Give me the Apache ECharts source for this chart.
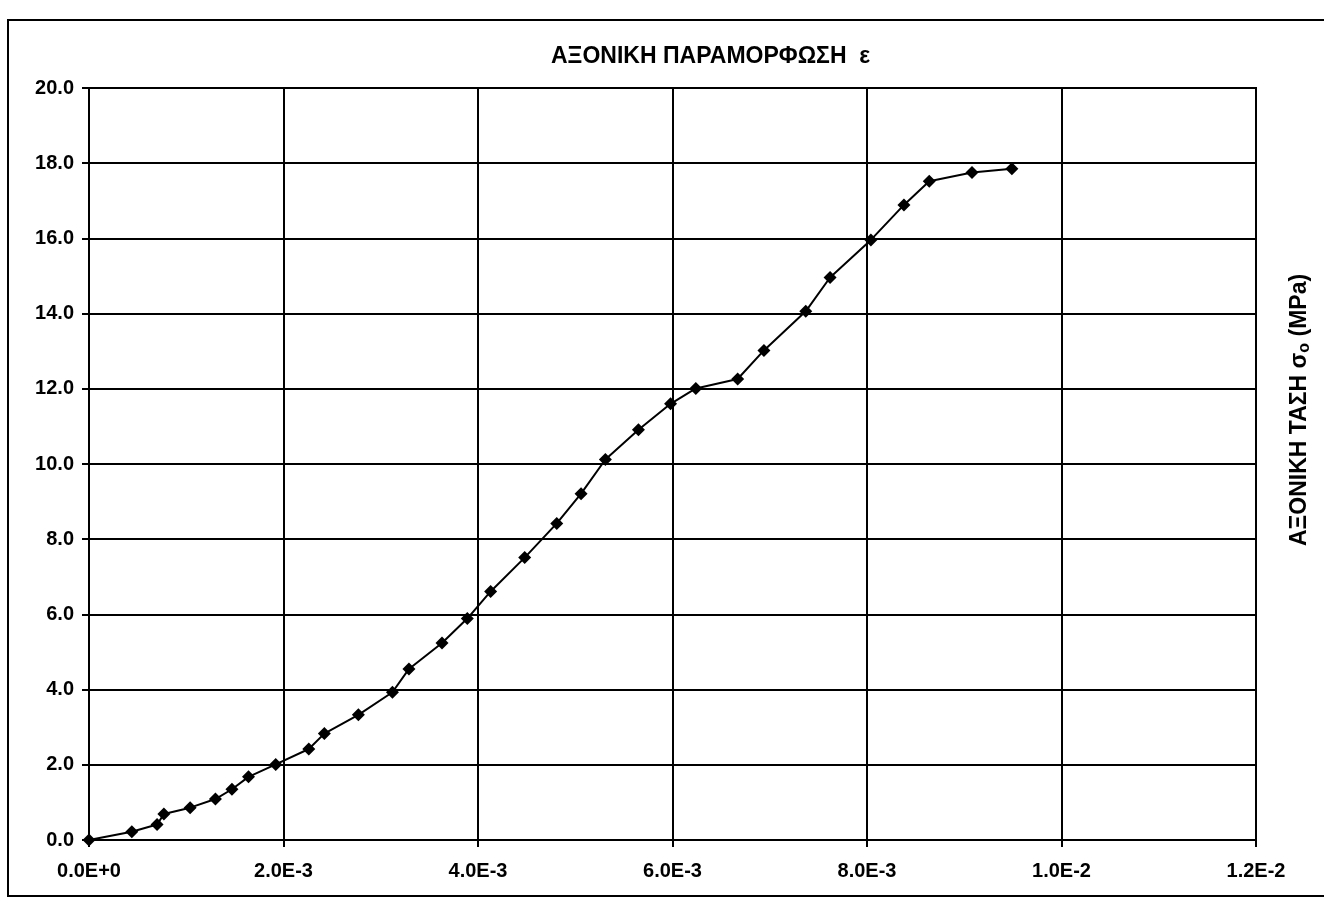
<!DOCTYPE html>
<html lang="el">
<head>
<meta charset="UTF-8">
<title>ΑΞΟΝΙΚΗ ΠΑΡΑΜΟΡΦΩΣΗ</title>
<script src="https://cdn.jsdelivr.net/npm/echarts@6/dist/echarts.min.js"></script>
<style>
  html, body { margin: 0; padding: 0; background: #fff; }
  #main { width: 1324px; height: 915px; }
</style>
</head>
<body>
<div id="main"></div>
<script>
// axial strain (ε) and axial stress σo (MPa)
var strain = [
  0, 0.00044, 0.00070, 0.00077, 0.00104, 0.00130, 0.00147, 0.00164, 0.00192,
  0.00226, 0.00242, 0.00277, 0.00312, 0.00329, 0.00363, 0.00389, 0.00413,
  0.00448, 0.00481, 0.00506, 0.00531, 0.00565, 0.00598, 0.00624, 0.00667,
  0.00694, 0.00737, 0.00762, 0.00804, 0.00838, 0.00864, 0.00908, 0.00949
];
var stress = [
  0, 0.22, 0.41, 0.69, 0.86, 1.09, 1.35, 1.68, 2.01,
  2.42, 2.83, 3.33, 3.93, 4.55, 5.24, 5.89, 6.61,
  7.51, 8.42, 9.21, 10.12, 10.91, 11.60, 12.01, 12.26,
  13.02, 14.06, 14.96, 15.96, 16.89, 17.52, 17.75, 17.85
];

var titleText = 'ΑΞΟΝΙΚΗ ΠΑΡΑΜΟΡΦΩΣΗ  ε';
var font = 'Liberation Sans, Arial, sans-serif';

var points = strain.map(function (s, i) { return [s, stress[i]]; });

var myChart = echarts.init(document.getElementById('main'));
myChart.setOption({
  backgroundColor: '#fff',
  animation: false,
  title: {
    text: titleText,
    left: 546,
    top: 40,
    textStyle: { color: '#000', fontFamily: font, fontWeight: 'bold', fontSize: 23 }
  },
  grid: {
    left: 89, right: 68, top: 88, bottom: 75,
    show: true, borderColor: '#000', borderWidth: 2
  },
  xAxis: {
    type: 'value',
    min: 0, max: 0.012, interval: 0.002,
    axisLine: { show: true, lineStyle: { color: '#000', width: 2 } },
    axisTick: { show: true, inside: false, length: 7, lineStyle: { color: '#000', width: 2 } },
    axisLabel: {
      margin: 21, color: '#000', fontFamily: font, fontWeight: 'bold', fontSize: 20,
      formatter: function (v) { return v.toExponential(1).toUpperCase(); }
    },
    splitLine: { show: true, lineStyle: { color: '#000', width: 2 } }
  },
  yAxis: {
    type: 'value',
    min: 0, max: 20, interval: 2,
    axisLine: { show: true, lineStyle: { color: '#000', width: 2 } },
    axisTick: { show: true, inside: false, length: 7, lineStyle: { color: '#000', width: 2 } },
    axisLabel: {
      margin: 15, color: '#000', fontFamily: font, fontWeight: 'bold', fontSize: 20,
      formatter: function (v) { return v.toFixed(1); }
    },
    splitLine: { show: true, lineStyle: { color: '#000', width: 2 } }
  },
  graphic: [
    {
      type: 'rect',
      shape: { x: 8, y: 20, width: 1320, height: 876 },
      style: { fill: 'none', stroke: '#000', lineWidth: 2 },
      silent: true
    },
    {
      type: 'text',
      x: 1300, y: 410,
      rotation: Math.PI / 2,
      style: {
        text: '{a|ΑΞΟΝΙΚΗ ΤΑΣΗ σ}{b|o}{a| (MPa)}',
        align: 'center', verticalAlign: 'middle',
        rich: {
          a: { fontFamily: font, fontWeight: 'bold', fontSize: 23, fill: '#000' },
          b: { fontFamily: font, fontWeight: 'bold', fontSize: 16, fill: '#000', padding: [10, 0, 0, 0] }
        }
      }
    }
  ],
  series: [{
    type: 'line',
    data: points,
    symbol: 'diamond',
    symbolSize: 13,
    lineStyle: { color: '#000', width: 2 },
    itemStyle: { color: '#000' }
  }]
});
</script>
</body>
</html>
